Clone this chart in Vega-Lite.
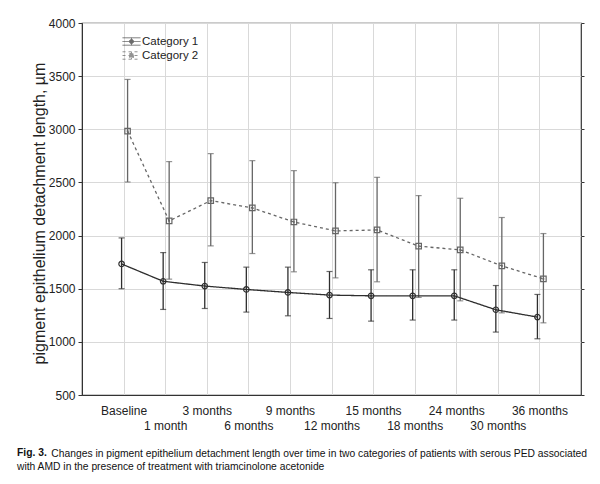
{
  "$schema": "https://vega.github.io/schema/vega-lite/v6.json",
  "width": 499,
  "height": 372,
  "autosize": {"type": "none"},
  "padding": {"left": 82, "top": 23, "right": 19, "bottom": 89},
  "background": "white",
  "config": {
    "font": "Liberation Sans",
    "view": {"stroke": "#333", "strokeWidth": 1.2, "fill": "white"}
  },
  "title": {
    "text": "Fig. 3.",
    "subtitle": ["\u200b\u00a0\u00a0\u00a0\u00a0\u00a0\u00a0\u00a0\u00a0\u00a0\u00a0\u00a0\u00a0Changes in pigment epithelium detachment length over time in two categories of patients with serous PED associated", "with AMD in the presence of treatment with triamcinolone acetonide"],
    "orient": "bottom",
    "anchor": "start",
    "frame": "group",
    "dx": -65,
    "offset": 17,
    "font": "Liberation Sans",
    "fontSize": 10.3,
    "fontWeight": "bold",
    "lineHeight": 13,
    "color": "#111",
    "subtitleFont": "Liberation Sans",
    "subtitleFontSize": 10.3,
    "subtitleColor": "#111",
    "subtitleLineHeight": 13,
    "subtitlePadding": -9
  },
  "data": {
    "values": [
      {"time": "Baseline", "series": "Category 1", "mean": 1733, "lo": 1500, "hi": 1978},
      {"time": "1  month", "series": "Category 1", "mean": 1570, "lo": 1305, "hi": 1840},
      {"time": "3 months", "series": "Category 1", "mean": 1525, "lo": 1314, "hi": 1747},
      {"time": "6 months", "series": "Category 1", "mean": 1493, "lo": 1280, "hi": 1703},
      {"time": "9 months", "series": "Category 1", "mean": 1465, "lo": 1245, "hi": 1703},
      {"time": "12 months", "series": "Category 1", "mean": 1440, "lo": 1220, "hi": 1662},
      {"time": "15 months", "series": "Category 1", "mean": 1433, "lo": 1195, "hi": 1678},
      {"time": "18 months", "series": "Category 1", "mean": 1433, "lo": 1205, "hi": 1678},
      {"time": "24 months", "series": "Category 1", "mean": 1433, "lo": 1205, "hi": 1678},
      {"time": "30 months", "series": "Category 1", "mean": 1302, "lo": 1092, "hi": 1530},
      {"time": "36 months", "series": "Category 1", "mean": 1233, "lo": 1029, "hi": 1446},
      {"time": "Baseline", "series": "Category 2", "mean": 2983, "lo": 2504, "hi": 3469},
      {"time": "1  month", "series": "Category 2", "mean": 2138, "lo": 1590, "hi": 2696},
      {"time": "3 months", "series": "Category 2", "mean": 2329, "lo": 1903, "hi": 2771},
      {"time": "6 months", "series": "Category 2", "mean": 2260, "lo": 1831, "hi": 2705},
      {"time": "9 months", "series": "Category 2", "mean": 2128, "lo": 1659, "hi": 2611},
      {"time": "12 months", "series": "Category 2", "mean": 2044, "lo": 1602, "hi": 2497},
      {"time": "15 months", "series": "Category 2", "mean": 2053, "lo": 1565, "hi": 2548},
      {"time": "18 months", "series": "Category 2", "mean": 1900, "lo": 1418, "hi": 2376},
      {"time": "24 months", "series": "Category 2", "mean": 1866, "lo": 1386, "hi": 2351},
      {"time": "30 months", "series": "Category 2", "mean": 1715, "lo": 1273, "hi": 2170},
      {"time": "36 months", "series": "Category 2", "mean": 1593, "lo": 1179, "hi": 2019}
    ]
  },
  "encoding": {
    "x": {
      "field": "time",
      "type": "ordinal",
      "sort": null,
      "scale": {"type": "point", "padding": 1},
      "axis": {
        "title": null,
        "grid": true,
        "gridColor": "#d9d9d9",
        "ticks": false,
        "domainColor": "#333",
        "labelAngle": 0,
        "labelFontSize": 12,
        "labelColor": "#222",
        "labelPadding": 10,
        "labelLineHeight": 15,
        "labelOverlap": false,
        "labelBound": false,
        "labelFlush": false,
        "labelExpr": "round(datum.index * 10) % 2 == 1 ? [' ', datum.label] : datum.label"
      }
    },
    "xOffset": {
      "field": "series",
      "type": "nominal",
      "scale": {"type": "point", "padding": 0, "domain": ["Category 1", "Category 2"], "range": [-2, 4]}
    }
  },
  "resolve": {"axis": {"y": "independent"}},
  "layer": [
    {
      "mark": {"type": "rule", "strokeWidth": 1.3},
      "encoding": {
        "y": {
          "field": "lo",
          "type": "quantitative",
          "scale": {"domain": [500, 4000], "nice": false, "zero": false},
          "axis": {"orient": "right", "labels": false, "grid": false, "domain": false, "ticks": true, "tickSize": 3, "tickColor": "#333", "values": [500, 1000, 1500, 2000, 2500, 3000, 3500, 4000], "title": null}
        },
        "y2": {"field": "hi"},
        "color": {"field": "series", "type": "nominal", "scale": {"domain": ["Category 1", "Category 2"], "range": ["#2e2e2e", "#666666"]}}
      }
    },
    {
      "encoding": {
        "y": {
          "field": "mean",
          "type": "quantitative",
          "scale": {"domain": [500, 4000], "nice": false, "zero": false},
          "axis": {
            "orient": "left",
            "values": [500, 1000, 1500, 2000, 2500, 3000, 3500, 4000],
            "format": "d",
            "grid": true,
            "gridColor": "#d9d9d9",
            "domainColor": "#333",
            "tickColor": "#333",
            "tickSize": 4,
            "labelFontSize": 12,
            "labelColor": "#222",
            "labelPadding": 3,
            "title": "pigment epithelium detachment length, µm",
            "titleFontSize": 16,
            "titleFontWeight": "normal",
            "titleColor": "#222",
            "titleX": -43,
            "titleY": 190,
            "titleBaseline": "middle"
          }
        }
      },
      "layer": [
        {
          "mark": {"type": "tick", "size": 6, "thickness": 1.2},
          "encoding": {
            "y": {"field": "lo", "type": "quantitative"},
            "color": {"field": "series", "type": "nominal"}
          }
        },
        {
          "mark": {"type": "tick", "size": 6, "thickness": 1.2},
          "encoding": {
            "y": {"field": "hi", "type": "quantitative"},
            "color": {"field": "series", "type": "nominal"}
          }
        },
        {
          "mark": {"type": "line", "strokeWidth": 1.3},
          "encoding": {
            "color": {
              "field": "series",
              "type": "nominal",
              "scale": {"domain": ["Category 1", "Category 2"], "range": ["#2e2e2e", "#666666"]},
              "legend": {
                "orient": "none",
                "legendX": 42,
                "legendY": 11,
                "title": null,
                "padding": 0,
                "rowPadding": 0,
                "symbolSize": 182,
                "symbolStrokeWidth": 1,
                "symbolFillColor": "transparent",
                "labelOffset": 3,
                "labelFontSize": 11.5,
                "labelColor": "#222"
              }
            },
            "strokeDash": {
              "field": "series",
              "type": "nominal",
              "scale": {"domain": ["Category 1", "Category 2"], "range": [[1, 0], [3, 3]]}
            },
            "shape": {
              "field": "series",
              "type": "nominal",
              "scale": {"domain": ["Category 1", "Category 2"], "range": ["M-1.33,-0.55H1.33M-1.33,0H1.33M-1.33,0.55H1.33M0,-0.55V0.55M-0.3,0A0.3,0.3,0,1,1,0.3,0A0.3,0.3,0,1,1,-0.3,0", "M-1.33,-0.55H1.33M-1.33,0H1.33M-1.33,0.55H1.33M0,-0.55V0.55M-0.3,-0.3H0.3V0.3H-0.3Z"]}
            }
          }
        },
        {
          "transform": [{"filter": "datum.series === 'Category 1'"}],
          "mark": {"type": "point", "shape": "circle", "filled": false, "size": 30, "strokeWidth": 1.2, "opacity": 1},
          "encoding": {
            "color": {"field": "series", "type": "nominal"}
          }
        },
        {
          "transform": [{"filter": "datum.series === 'Category 2'"}],
          "mark": {"type": "point", "shape": "square", "filled": false, "size": 30, "strokeWidth": 1.2, "opacity": 1},
          "encoding": {
            "color": {"field": "series", "type": "nominal"}
          }
        }
      ]
    }
  ]
}
